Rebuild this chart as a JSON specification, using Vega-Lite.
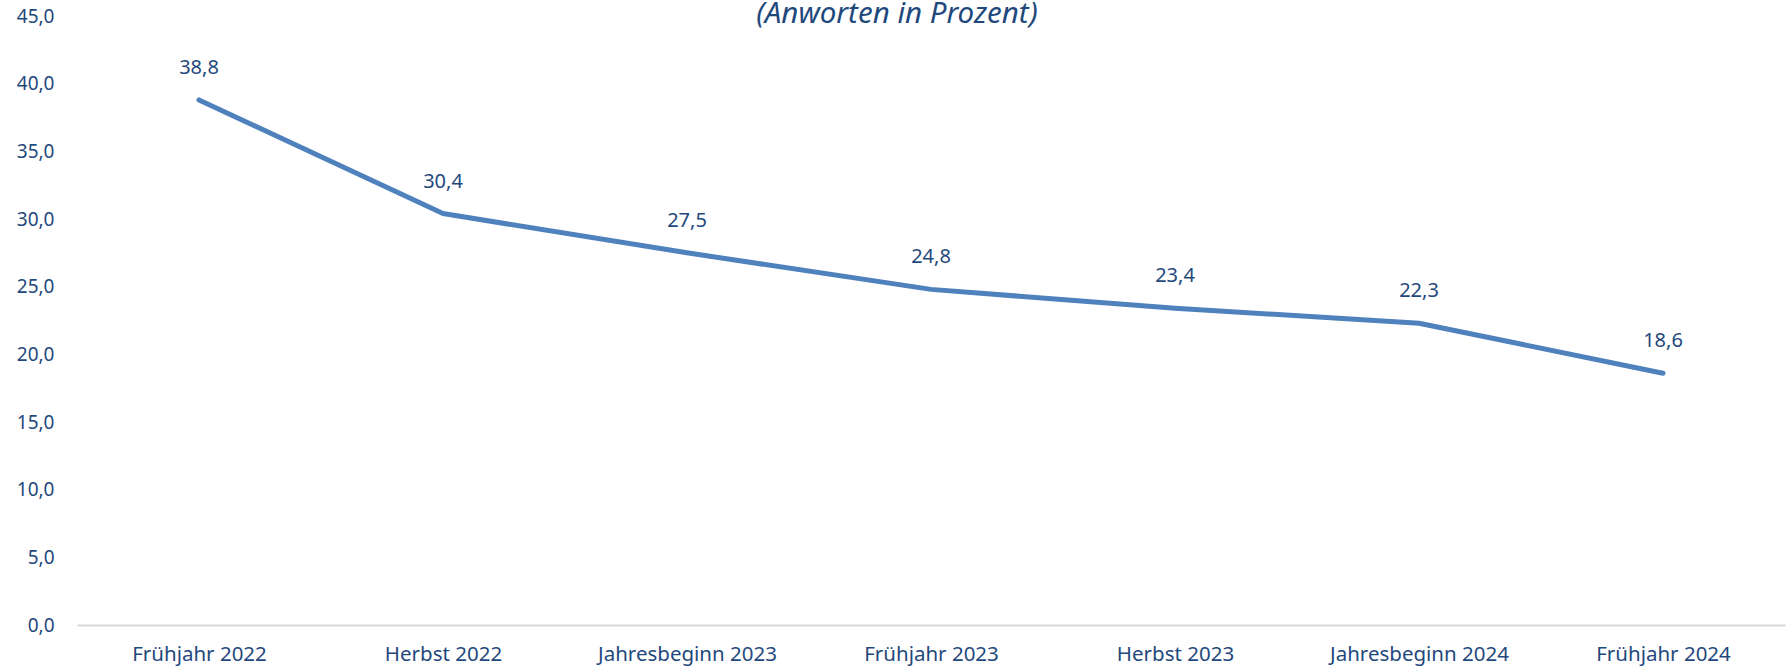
{
  "$schema": "https://vega.github.io/schema/vega-lite/v6.json",
  "width": 1708,
  "height": 609,
  "autosize": "none",
  "padding": {"left": 77, "top": 16, "right": 7, "bottom": 43},
  "background": "white",
  "config": {
    "view": {"stroke": null},
    "locale": {
      "number": {"decimal": ",", "thousands": ".", "grouping": [3], "currency": ["", " €"]}
    }
  },
  "title": {
    "text": "(Anworten in Prozent)",
    "font": "Noto Sans",
    "fontStyle": "italic",
    "fontWeight": "normal",
    "fontSize": 29.5,
    "color": "#1F497D",
    "anchor": "middle",
    "frame": "group",
    "dx": -34,
    "offset": -22
  },
  "data": {
    "values": [
      {"periode": "Frühjahr 2022", "wert": 38.8},
      {"periode": "Herbst 2022", "wert": 30.4},
      {"periode": "Jahresbeginn 2023", "wert": 27.5},
      {"periode": "Frühjahr 2023", "wert": 24.8},
      {"periode": "Herbst 2023", "wert": 23.4},
      {"periode": "Jahresbeginn 2024", "wert": 22.3},
      {"periode": "Frühjahr 2024", "wert": 18.6}
    ]
  },
  "encoding": {
    "x": {
      "field": "periode",
      "type": "nominal",
      "sort": null,
      "scale": {"paddingInner": 0, "paddingOuter": 0},
      "axis": {
        "title": null,
        "labelAngle": 0,
        "ticks": false,
        "labelPadding": 19,
        "labelFont": "Noto Sans",
        "labelFontSize": 20.5,
        "labelColor": "#1F497D",
        "domainColor": "#D9D9D9",
        "domainWidth": 2,
        "grid": false
      }
    },
    "y": {
      "field": "wert",
      "type": "quantitative",
      "scale": {"domain": [0, 45], "nice": false},
      "axis": {
        "title": null,
        "values": [0, 5, 10, 15, 20, 25, 30, 35, 40, 45],
        "format": ".1f",
        "ticks": false,
        "domain": false,
        "grid": false,
        "labelPadding": 23,
        "labelFont": "Noto Sans",
        "labelFontSize": 19,
        "labelColor": "#1F497D"
      }
    }
  },
  "layer": [
    {
      "mark": {"type": "line", "color": "#4F81BD", "strokeWidth": 5, "strokeCap": "round", "strokeJoin": "round"}
    },
    {
      "mark": {"type": "text", "dy": -32, "font": "Noto Sans", "fontSize": 20, "color": "#1F497D", "baseline": "middle"},
      "encoding": {
        "text": {"field": "wert", "type": "quantitative", "format": ".1f"}
      }
    }
  ]
}
